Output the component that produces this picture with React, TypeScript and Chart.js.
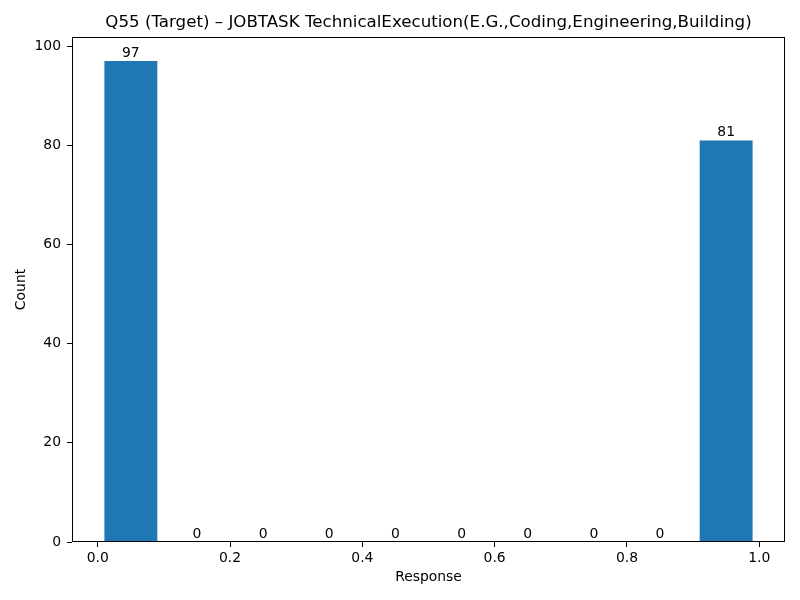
import React, { useEffect, useRef } from "react";
import { Chart, registerables } from "chart.js";

Chart.register(...registerables);

const TITLE = "Q55 (Target) – JOBTASK TechnicalExecution(E.G.,Coding,Engineering,Building)";
const binCenters = [0.05, 0.15, 0.25, 0.35, 0.45, 0.55, 0.65, 0.75, 0.85, 0.95];
const counts = [97, 0, 0, 0, 0, 0, 0, 0, 0, 81];
const xTicks = [0, 0.2, 0.4, 0.6, 0.8, 1.0];
const yTicks = [0, 20, 40, 60, 80, 100];
const X_MIN = -0.039;
const X_MAX = 1.039;
const Y_MAX = 101.85;

const FONT = "'DejaVu Sans', sans-serif";

const framePlugin = {
  id: "frame",
  afterDraw(chart: any) {
    const { ctx, chartArea } = chart;
    ctx.save();
    ctx.strokeStyle = "#000";
    ctx.lineWidth = 1;
    ctx.strokeRect(
      Math.round(chartArea.left) + 0.5,
      Math.round(chartArea.top) + 0.5,
      Math.round(chartArea.right - chartArea.left) - 1,
      Math.round(chartArea.bottom - chartArea.top) - 1
    );
    // title centred over the plot area
    ctx.fillStyle = "#000";
    ctx.font = `16.67px ${FONT}`;
    ctx.textAlign = "center";
    ctx.textBaseline = "middle";
    ctx.fillText(TITLE, (chartArea.left + chartArea.right) / 2, 23);
    ctx.restore();
  },
};

const labelPlugin = {
  id: "barLabels",
  afterDatasetsDraw(chart: any) {
    const { ctx } = chart;
    const meta = chart.getDatasetMeta(0);
    ctx.save();
    ctx.fillStyle = "#000";
    ctx.font = `13.9px ${FONT}`;
    ctx.textAlign = "center";
    ctx.textBaseline = "bottom";
    meta.data.forEach((el: any, i: number) => {
      ctx.fillText(String(counts[i]), el.x, el.y - 1);
    });
    ctx.restore();
  },
};

export default function App() {
  const ref = useRef<HTMLCanvasElement | null>(null);
  useEffect(() => {
    if (!ref.current) return;
    const chart = new Chart(ref.current, {
      type: "bar",
      data: {
        datasets: [
          {
            data: binCenters.map((x, i) => ({ x, y: counts[i] })),
            backgroundColor: "#1f77b4",
            borderColor: "#1f77b4",
            borderWidth: 0,
            categoryPercentage: 1,
            barPercentage: 0.8,
          },
        ],
      },
      options: {
        animation: false,
        responsive: false,
        layout: { padding: { left: 0, right: 15, top: 37, bottom: 0 } },
        plugins: {
          legend: { display: false },
          tooltip: { enabled: false },
          title: { display: false },
        },
        scales: {
          x: {
            type: "linear",
            min: X_MIN,
            max: X_MAX,
            offset: false,
            afterBuildTicks: (scale: any) => {
              scale.ticks = xTicks.map((v) => ({ value: v }));
            },
            afterFit: (scale: any) => {
              scale.height = 58;
            },
            ticks: {
              color: "#000",
              font: { family: FONT, size: 13.9 },
              padding: 3,
              maxRotation: 0,
              callback: (v: any) => Number(v).toFixed(1),
            },
            grid: {
              offset: false,
              drawOnChartArea: false,
              drawTicks: true,
              tickLength: 5,
              color: "#000",
            },
            border: { display: false },
            title: {
              display: true,
              text: "Response",
              color: "#000",
              font: { family: FONT, size: 13.9, lineHeight: 1.2 },
              padding: { top: 0, bottom: 14.7 },
            },
          },
          y: {
            type: "linear",
            min: 0,
            max: Y_MAX,
            afterBuildTicks: (scale: any) => {
              scale.ticks = yTicks.map((v) => ({ value: v }));
            },
            afterFit: (scale: any) => {
              scale.width = 72;
            },
            ticks: {
              color: "#000",
              font: { family: FONT, size: 13.9 },
              padding: 6,
            },
            grid: {
              drawOnChartArea: false,
              drawTicks: true,
              tickLength: 5,
              color: "#000",
            },
            border: { display: false },
            title: {
              display: true,
              text: "Count",
              color: "#000",
              font: { family: FONT, size: 13.9, lineHeight: 1.2 },
              padding: { top: 12.7, bottom: 0 },
            },
          },
        },
      } as any,
      plugins: [framePlugin, labelPlugin],
    });
    return () => chart.destroy();
  }, []);
  return (
    <div style={{ position: "absolute", left: 0, top: 0, width: 800, height: 600, background: "#fff" }}>
      <canvas ref={ref} width={800} height={600} />
    </div>
  );
}
